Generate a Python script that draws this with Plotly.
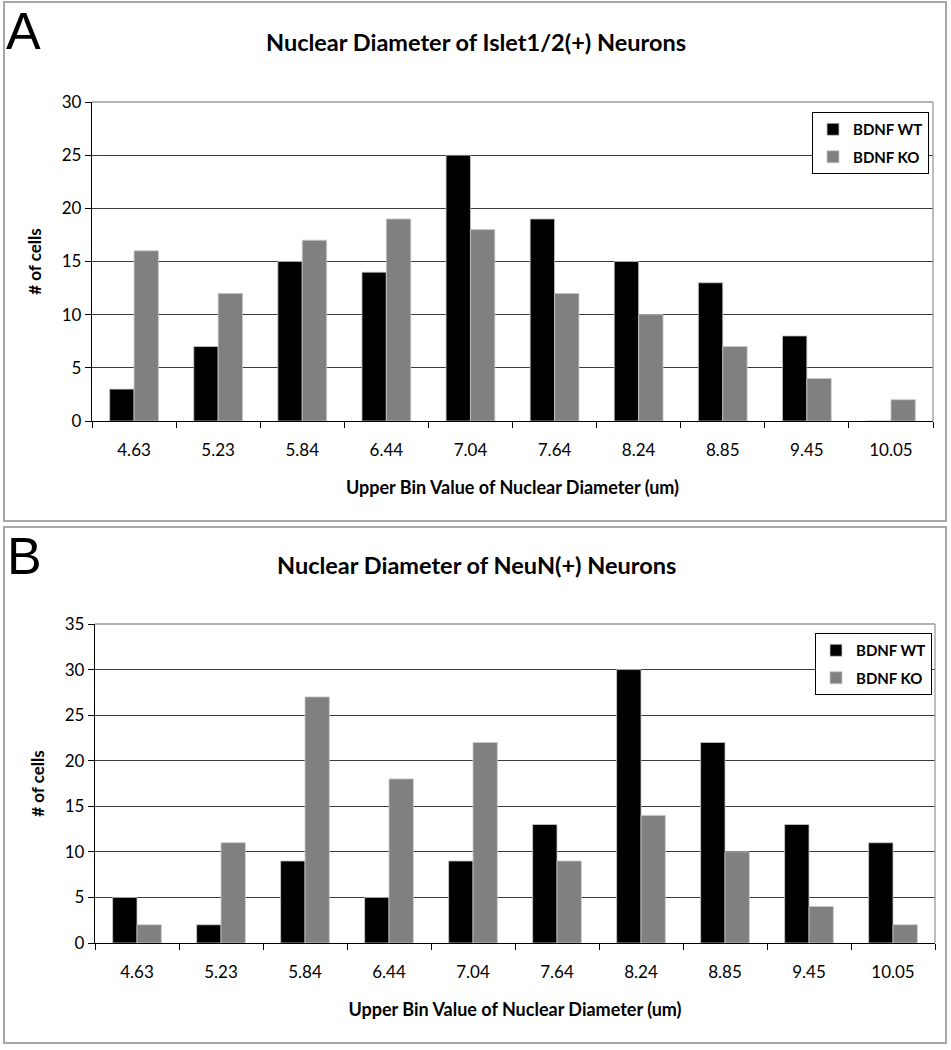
import plotly.graph_objects as go

W, H = 951, 1050

bins = ["4.63", "5.23", "5.84", "6.44", "7.04", "7.64", "8.24", "8.85", "9.45", "10.05"]
islet_wt = [3, 7, 15, 14, 25, 19, 15, 13, 8, 0]
islet_ko = [16, 12, 17, 19, 18, 12, 10, 7, 4, 2]
neun_wt = [5, 2, 9, 5, 9, 13, 30, 22, 13, 11]
neun_ko = [2, 11, 27, 18, 22, 9, 14, 10, 4, 2]

title_a = "Nuclear Diameter of Islet1/2(+) Neurons"
title_b = "Nuclear Diameter of NeuN(+) Neurons"
xtitle = "Upper Bin Value of Nuclear Diameter (um)"
ytitle = "# of cells"

FONT = "Lato"
WT_COLOR = "#000000"
KO_COLOR = "#808080"


def px(x):
    return x / W


def py(y):
    return 1 - y / H


fig = go.Figure()

bar_line = dict(color="#c8c8c8", width=0.8)
fig.add_trace(go.Bar(x=bins, y=islet_wt, name="BDNF WT", marker_color=WT_COLOR,
                     marker_line=bar_line, legendgroup="a_wt",
                     xaxis="x", yaxis="y", legend="legend"))
fig.add_trace(go.Bar(x=bins, y=islet_ko, name="BDNF KO", marker_color=KO_COLOR,
                     marker_line=bar_line, legendgroup="a_ko",
                     xaxis="x", yaxis="y", legend="legend"))
fig.add_trace(go.Bar(x=bins, y=neun_wt, name="BDNF WT", marker_color=WT_COLOR,
                     marker_line=bar_line, legendgroup="b_wt",
                     xaxis="x2", yaxis="y2", legend="legend2"))
fig.add_trace(go.Bar(x=bins, y=neun_ko, name="BDNF KO", marker_color=KO_COLOR,
                     marker_line=bar_line, legendgroup="b_ko",
                     xaxis="x2", yaxis="y2", legend="legend2"))

tickfont = dict(family=FONT, size=17, color="#000")
xtitlefont = dict(family=FONT, size=18, color="#000", weight="bold")
ytitlefont = dict(family=FONT, size=17, color="#000", weight="bold")

xa_common = dict(type="category", showgrid=False, showline=True, linecolor="#000",
                 linewidth=1.3, ticks="outside", ticklen=6, tickcolor="#000",
                 tickson="boundaries", tickfont=tickfont, ticklabelstandoff=13,
                 automargin=False,
                 title=dict(text=xtitle, font=xtitlefont, standoff=22))
ya_common = dict(showgrid=True, gridcolor="#3a3a3a", gridwidth=1.2, showline=True,
                 linecolor="#000", linewidth=1.3, ticks="outside", ticklen=6,
                 tickcolor="#000", dtick=5, tickfont=tickfont, zeroline=False,
                 automargin=False,
                 title=dict(text=ytitle, font=ytitlefont, standoff=15))

# plot area coordinates in pixels
A = dict(x0=92, x1=933, y0=102, y1=421)
B = dict(x0=95, x1=935, y0=624, y1=943)

legend_font = dict(family=FONT, size=15, weight="bold", color="#000")

fig.update_layout(
    template="none",
    width=W, height=H,
    margin=dict(l=0, r=0, t=0, b=0, pad=0, autoexpand=False),
    paper_bgcolor="white", plot_bgcolor="white",
    barmode="group", bargap=0.42, bargroupgap=0,
    font=dict(family=FONT, color="#000"),
    xaxis=dict(domain=[px(A["x0"]), px(A["x1"])], anchor="y", **xa_common),
    yaxis=dict(domain=[py(A["y1"]), py(A["y0"])], anchor="x", range=[0, 30], **ya_common),
    xaxis2=dict(domain=[px(B["x0"]), px(B["x1"])], anchor="y2", **xa_common),
    yaxis2=dict(domain=[py(B["y1"]), py(B["y0"])], anchor="x2", range=[0, 35], **ya_common),
    legend=dict(x=px(812), y=py(112), xanchor="left", yanchor="top",
                bordercolor="#000", borderwidth=1, bgcolor="white",
                font=legend_font, tracegroupgap=5, itemwidth=30),
    legend2=dict(x=px(815), y=py(633), xanchor="left", yanchor="top",
                 bordercolor="#000", borderwidth=1, bgcolor="white",
                 font=legend_font, tracegroupgap=5, itemwidth=30),
    showlegend=True,
)

shapes = []
# panel frames
shapes.append(dict(type="rect", xref="paper", yref="paper", x0=px(4), x1=px(946),
                   y0=py(521), y1=py(2), line=dict(color="#a8a8a8", width=2), layer="above"))
shapes.append(dict(type="rect", xref="paper", yref="paper", x0=px(4), x1=px(946),
                   y0=py(1043), y1=py(527), line=dict(color="#a8a8a8", width=2), layer="above"))
# plot area top/right border lines (gray)
for P in (A, B):
    shapes.append(dict(type="line", xref="paper", yref="paper", x0=px(P["x0"]), x1=px(P["x1"]),
                       y0=py(P["y0"]), y1=py(P["y0"]), line=dict(color="#9a9a9a", width=1.3),
                       layer="above"))
    shapes.append(dict(type="line", xref="paper", yref="paper", x0=px(P["x1"]), x1=px(P["x1"]),
                       y0=py(P["y1"]), y1=py(P["y0"]), line=dict(color="#9a9a9a", width=1.3),
                       layer="above"))
fig.update_layout(shapes=shapes)

annotations = [
    dict(text=title_a, x=px(476), y=py(42), xref="paper", yref="paper", showarrow=False,
         font=dict(family=FONT, size=23.5, weight="bold", color="#000"),
         xanchor="center", yanchor="middle"),
    dict(text=title_b, x=px(476), y=py(565), xref="paper", yref="paper", showarrow=False,
         font=dict(family=FONT, size=23.5, weight="bold", color="#000"),
         xanchor="center", yanchor="middle"),
    dict(text="A", x=px(4), y=py(31), xref="paper", yref="paper", showarrow=False,
         font=dict(family="Liberation Sans", size=52, color="#000"),
         xanchor="left", yanchor="middle"),
    dict(text="B", x=px(5), y=py(556), xref="paper", yref="paper", showarrow=False,
         font=dict(family="Liberation Sans", size=52, color="#000"),
         xanchor="left", yanchor="middle"),
]
fig.update_layout(annotations=annotations)

fig.write_html("out.html", config={"displayModeBar": False},
               post_script="document.body.style.margin='0';document.body.style.overflow='hidden';")
